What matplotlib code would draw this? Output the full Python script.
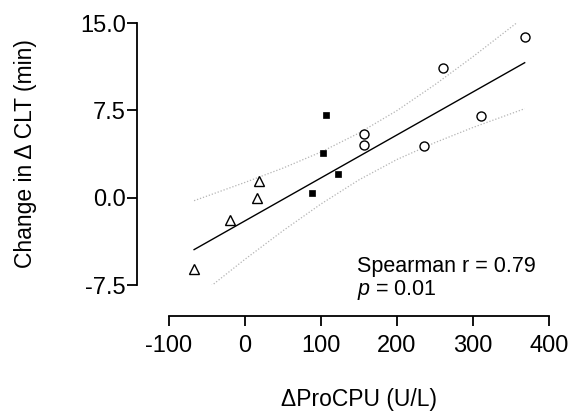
import matplotlib
matplotlib.use("Agg")
import matplotlib.pyplot as plt
import numpy as np

plt.rcParams['font.family'] = ['Liberation Sans', 'DejaVu Sans']
plt.rcParams['mathtext.fontset'] = 'custom'
plt.rcParams['mathtext.rm'] = 'Liberation Sans'
plt.rcParams['mathtext.it'] = 'Liberation Sans:italic'

# --- data ---
tri_x = [-67, -20, 16, 18]
tri_y = [-6.1, -1.95, -0.05, 1.45]
sq_x = [88, 102, 107, 123]
sq_y = [0.4, 3.8, 7.1, 2.0]
circ_x = [157, 157, 236, 260, 310, 368]
circ_y = [5.5, 4.5, 4.4, 11.1, 7.0, 13.8]

# regression line
fit_slope = 0.0369
fit_intercept = -1.99

# 95% confidence band
band_x = [-67, 0, 50, 100, 150, 200, 250, 300, 368]
band_upper = [-0.26, 1.31, 2.54, 3.92, 5.55, 7.48, 9.71, 12.11, 15.54]
band_lower = [-8.74, -5.29, -2.84, -0.54, 1.53, 3.28, 4.73, 6.03, 7.64]

xticks = [-100, 0, 100, 200, 300, 400]
xticklabels = ["-100", "0", "100", "200", "300", "400"]
yticks = [-7.5, 0.0, 7.5, 15.0]
yticklabels = ["-7.5", "0.0", "7.5", "15.0"]

stat_line1 = "Spearman r = 0.79"
stat_line2 = r"$p$ = 0.01"

# --- figure ---
fig = plt.figure(figsize=(5.7, 4.12), dpi=100)
ax = fig.add_axes([169/570, 1-285/412, 380/570, 262/412])

ax.set_xlim(-100, 400)
ax.set_ylim(-7.5, 15)

all_x = np.array(tri_x + sq_x + circ_x)
lx = np.array([all_x.min(), all_x.max()])
ax.plot(lx, fit_slope*lx + fit_intercept, color='black', lw=1.0, zorder=2)
ax.plot(band_x, band_upper, color='#b4b4b4', lw=0.9, ls=(0, (1, 1.5)), zorder=1)
ax.plot(band_x, band_lower, color='#b4b4b4', lw=0.9, ls=(0, (1, 1.5)), zorder=1)

ax.plot(circ_x, circ_y, 'o', ms=6.5, mfc='white', mec='black', mew=1.0, ls='none', zorder=3, clip_on=False)
ax.plot(sq_x, sq_y, 's', ms=4.8, mfc='black', mec='black', mew=0.5, ls='none', zorder=3, clip_on=False)
ax.plot(tri_x, tri_y, '^', ms=7, mfc='white', mec='black', mew=1.0, ls='none', zorder=3, clip_on=False)

for s in ['top', 'right']:
    ax.spines[s].set_visible(False)
ax.spines['left'].set_position(('outward', 23))
ax.spines['bottom'].set_position(('outward', 22))
for s in ['left', 'bottom']:
    ax.spines[s].set_linewidth(1.3)

ax.set_xticks(xticks)
ax.set_xticklabels(xticklabels)
ax.set_yticks(yticks)
ax.set_yticklabels(yticklabels)
ax.tick_params(axis='both', direction='out', length=7, width=1.3, labelsize=17)
ax.tick_params(axis='x', pad=7)
ax.tick_params(axis='y', pad=1)

ax.set_xlabel(u"\u0394ProCPU (U/L)", fontsize=16.5, va='top')
ax.xaxis.set_label_coords(0.5, -0.392)
ax.set_ylabel(u"Change in \u0394 CLT (min)", fontsize=16.5)
ax.yaxis.set_label_coords(-0.348, 0.5)

ax.text(147, -6.37, stat_line1, fontsize=15.5, va='baseline', ha='left')
ax.text(147, -8.37, stat_line2, fontsize=15.5, va='baseline', ha='left')

fig.savefig("out.png", dpi=100)
